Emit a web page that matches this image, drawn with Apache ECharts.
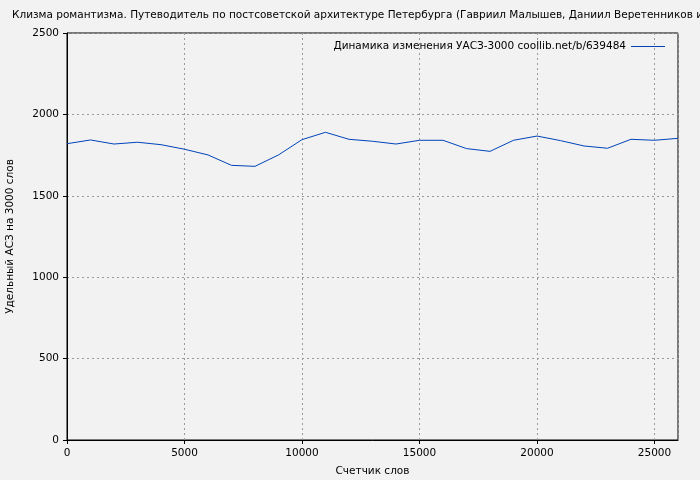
<!DOCTYPE html>
<html>
<head>
<meta charset="utf-8">
<script src="https://cdn.jsdelivr.net/npm/echarts@6/dist/echarts.min.js"></script>
<style>
html,body{margin:0;padding:0;background:#f2f2f2;}
#chart{width:700px;height:480px;}
</style>
</head>
<body>
<div id="chart"></div>
<script>
const titleText = "Клизма романтизма. Путеводитель по постсоветской архитектуре Петербурга (Гавриил Малышев, Даниил Веретенников и";
const seriesName = "Динамика изменения УАСЗ-3000 coollib.net/b/639484";
const xName = "Счетчик слов";
const yName = "Удельный АСЗ на 3000 слов";
const wordCounts = [0,1000,2000,3000,4000,5000,6000,7000,8000,9000,10000,11000,12000,13000,14000,15000,16000,17000,18000,19000,20000,21000,22000,23000,24000,25000,26000];
const values = [1820,1843,1818,1829,1814,1786,1751,1687,1681,1751,1845,1890,1847,1835,1818,1841,1841,1790,1773,1841,1867,1839,1806,1792,1847,1841,1853];

const font = "DejaVu Sans";
const fs = 10.5;
const chart = echarts.init(document.getElementById('chart'), null, {renderer:'canvas'});
chart.setOption({
  backgroundColor: '#f2f2f2',
  animation: false,
  title: {
    text: titleText,
    left: 7, top: 5,
    textStyle: {fontFamily: font, fontSize: fs, fontWeight: 'normal', color: '#000'}
  },
  legend: {
    right: 30, top: 36,
    itemWidth: 34, itemHeight: 1,
    icon: 'rect',
    itemGap: 6,
    align: 'right',
    textStyle: {fontFamily: font, fontSize: fs, color: '#000'},
    data: [{name: seriesName}]
  },
  grid: {left: 67, right: 22, top: 33, bottom: 40, outerBoundsMode: 'none', containLabel: false, show: true, borderColor: '#000', borderWidth: 1, backgroundColor: 'transparent'},
  xAxis: {
    type: 'value', min: 0, max: 26000, interval: 5000,
    name: xName, nameLocation: 'middle', nameGap: 26,
    nameTextStyle: {fontFamily: font, fontSize: fs, color: '#000'},
    axisLine: {show: true, lineStyle: {color: '#000'}},
    axisTick: {show: true, length: 4, lineStyle: {color: '#000'}},
    axisLabel: {fontFamily: font, fontSize: fs, color: '#000', margin: 8, showMaxLabel: false, formatter: v => String(v)},
    splitLine: {show: true, lineStyle: {color: '#999', type: [2,3], width: 1}}
  },
  yAxis: {
    type: 'value', min: 0, max: 2500, interval: 500,
    name: yName, nameLocation: 'middle', nameGap: 51, nameRotate: 90,
    nameTextStyle: {fontFamily: font, fontSize: fs, color: '#000'},
    axisLine: {show: true, lineStyle: {color: '#000'}},
    axisTick: {show: true, length: 4, lineStyle: {color: '#000'}},
    axisLabel: {fontFamily: font, fontSize: fs, color: '#000', margin: 8, formatter: v => String(v)},
    splitLine: {show: true, lineStyle: {color: '#999', type: [2,3], width: 1}}
  },
  series: [{
    name: seriesName,
    type: 'line',
    data: wordCounts.map((x, i) => [x, values[i]]),
    showSymbol: false,
    symbol: 'none',
    smooth: false,
    lineStyle: {color: '#0044bb', width: 1},
    itemStyle: {color: '#0044bb'}
  }]
});
</script>
</body>
</html>
